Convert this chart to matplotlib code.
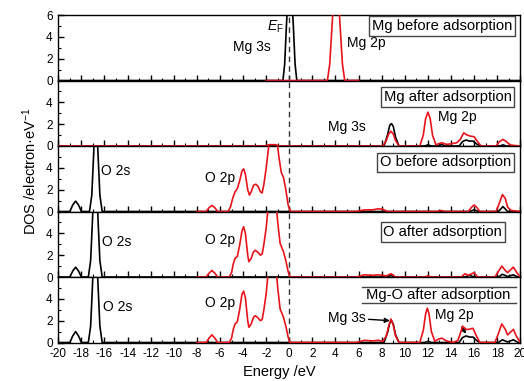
import matplotlib
matplotlib.use("Agg")
import matplotlib.pyplot as plt
from matplotlib.ticker import MultipleLocator

plt.rcParams['font.family'] = ['Liberation Sans', 'DejaVu Sans']
plt.rcParams['mathtext.fontset'] = 'custom'
plt.rcParams['mathtext.it'] = 'Liberation Sans:italic'
plt.rcParams['mathtext.rm'] = 'Liberation Sans'

# ---------------- data ----------------
titles = ["Mg before adsorption", "Mg after adsorption", "O before adsorption",
          "O after adsorption", "Mg-O after adsorption"]

# Panel 1: Mg before adsorption
p1_black_x = [-20, -0.55, -0.4, -0.25, -0.1, 0.05, 0.2, 0.35, 0.5, 0.65, 20]
p1_black_y = [0, 0, 1.5, 5.0, 8.0, 8.8, 8.0, 5.0, 1.5, 0, 0]
p1_red_x = [-2, 3.3, 3.5, 3.7, 3.9, 4.05, 4.2, 4.4, 4.6, 4.8, 6]
p1_red_y = [0, 0, 1.5, 5.0, 8.5, 9.5, 8.5, 5.0, 1.5, 0, 0]

# Panel 2: Mg after adsorption
p2_black_x = [-20, 8.2, 8.5, 8.7, 8.85, 9.0, 9.2, 9.5, 11.7, 12.0, 12.3, 12.9, 13.2, 13.5,
              14.7, 15.0, 15.3, 15.6, 15.9, 16.2, 16.5, 18.2, 18.5, 18.8, 20]
p2_black_y = [0, 0, 1.0, 1.9, 2.05, 1.8, 0.8, 0, 0, 0.1, 0, 0, 0.15, 0,
              0, 0.4, 0.55, 0.45, 0.45, 0.2, 0, 0, 0.1, 0, 0]
p2_red_x = [-20, -2.2, -1.7, -1.2, -0.8, 8.1, 8.4, 8.6, 8.8, 9.0, 9.2, 9.5,
            11.3, 11.6, 11.8, 12.0, 12.2, 12.4, 12.7, 12.9, 13.2, 13.6, 14.0, 14.5,
            14.8, 15.1, 15.4, 15.7, 16.0, 16.3, 16.6, 17.9, 18.2, 18.5, 18.8, 19.1, 19.5, 20]
p2_red_y = [0, 0, 0.12, 0.12, 0, 0, 0.5, 1.1, 1.35, 1.1, 0.5, 0,
            0, 1.0, 2.5, 3.1, 2.5, 1.0, 0.1, 0.2, 0.3, 0.15, 0.2, 0.3,
            0.6, 1.2, 1.0, 0.9, 0.85, 0.4, 0, 0, 0.4, 0.6, 0.4, 0.1, 0.05, 0]

# Panel 3: O before adsorption
p3_black_x = [-20, -19.0, -18.75, -18.5, -18.25, -18.0, -17.3, -17.1, -16.95, -16.85, -16.75,
              -16.65, -16.55, -16.4, -16.2, 15.6, 16.0, 16.4, 18.1, 18.5, 18.9, 20]
p3_black_y = [0, 0, 0.6, 0.95, 0.6, 0, 0, 1.5, 5.0, 7.5, 8.5,
              7.5, 5.0, 1.5, 0, 0, 0.15, 0, 0, 0.45, 0, 0]
p3_red_x = [-8, -7.2, -6.95, -6.7, -6.45, -6.2,
            -5.3, -5.1, -4.9, -4.7, -4.5, -4.3, -4.1, -3.95, -3.8, -3.6, -3.45, -3.3, -3.1,
            -2.9, -2.7, -2.5, -2.35, -2.2, -2.0, -1.8, -1.6, -1.35, -1.1, -0.9, -0.7, -0.5,
            -0.3, -0.1, 0.1,
            5.8, 6.5, 7.2, 7.7, 8.1, 8.5, 12.8, 13.1, 13.5, 15.5, 15.75, 16.0, 16.25, 16.5,
            17.9, 18.2, 18.45, 18.7, 18.9, 19.2, 20]
p3_red_y = [0, 0, 0.35, 0.55, 0.35, 0,
            0, 0.4, 1.2, 1.8, 2.1, 2.8, 3.7, 3.9, 3.4, 2.0, 1.5, 1.8, 2.4,
            2.5, 2.3, 1.8, 1.7, 2.5, 4.0, 5.8, 7.0, 7.5, 6.8, 5.0, 3.6, 3.1,
            2.0, 0.6, 0,
            0, 0.15, 0.15, 0.25, 0.2, 0, 0, 0.1, 0, 0, 0.35, 0.6, 0.35, 0,
            0, 0.8, 1.55, 1.2, 0.4, 0.1, 0]

# Panel 4: O after adsorption
p4_black_x = [-20, -19.0, -18.75, -18.5, -18.25, -18.0, -17.4, -17.2, -17.05, -16.95, -16.8,
              -16.65, -16.55, -16.4, -16.2, 8.5, 8.8, 9.1, 15.2, 15.6, 16.0, 18.1, 18.45, 18.9,
              19.4, 19.8, 20]
p4_black_y = [0, 0, 0.55, 0.9, 0.55, 0, 0, 1.5, 5.0, 7.5, 8.5,
              7.5, 5.0, 1.5, 0, 0, 0.15, 0, 0, 0.15, 0, 0, 0.25, 0.05,
              0.2, 0, 0]
p4_red_x = [-8, -7.2, -6.95, -6.7, -6.45, -6.2,
            -5.2, -5.0, -4.85, -4.7, -4.5, -4.3, -4.1, -3.95, -3.8, -3.6, -3.5, -3.3, -3.1,
            -2.95, -2.75, -2.5, -2.35, -2.2, -2.0, -1.85, -1.6, -1.4, -1.15, -1.0, -0.8, -0.5,
            -0.3, -0.1, 0.05,
            5.8, 6.5, 7.2, 7.7, 8.1, 8.4, 8.8, 9.2, 11.7, 12.0, 12.3, 14.9, 15.2, 15.5, 15.8,
            16.0, 16.3, 17.8, 18.1, 18.4, 18.7, 18.9, 19.1, 19.4, 19.7, 20]
p4_red_y = [0, 0, 0.35, 0.6, 0.35, 0,
            0, 0.4, 1.2, 1.7, 1.9, 2.9, 4.2, 4.6, 4.0, 2.0, 1.4, 1.7, 2.3,
            2.45, 2.3, 2.0, 2.1, 3.0, 4.5, 6.2, 7.5, 7.8, 6.8, 5.0, 3.1, 2.3,
            1.5, 0.5, 0,
            0, 0.2, 0.15, 0.2, 0.15, 0.1, 0.3, 0, 0, 0.1, 0, 0, 0.3, 0.15, 0.3,
            0.4, 0, 0, 0.5, 1.0, 0.6, 0.4, 0.6, 0.9, 0.4, 0]

# Panel 5: Mg-O after adsorption
p5_black_x = [-20, -19.0, -18.75, -18.5, -18.25, -18.0, -17.4, -17.2, -17.05, -16.95, -16.8,
              -16.65, -16.55, -16.4, -16.2, 8.2, 8.5, 8.7, 8.85, 9.0, 9.2, 9.5, 11.7, 12.0, 12.3,
              14.7, 15.0, 15.3, 15.6, 15.9, 16.2, 16.5, 18.1, 18.45, 18.9, 19.4, 19.8, 20]
p5_black_y = [0, 0, 0.6, 1.0, 0.6, 0, 0, 1.5, 5.0, 7.5, 8.5,
              7.5, 5.0, 1.5, 0, 0, 0.9, 1.8, 2.0, 1.7, 0.7, 0, 0, 0.1, 0,
              0, 0.45, 0.6, 0.5, 0.5, 0.2, 0, 0, 0.25, 0.05, 0.25, 0, 0]
p5_red_x = [-8, -7.2, -6.95, -6.7, -6.45, -6.2,
            -5.2, -5.0, -4.85, -4.7, -4.5, -4.3, -4.1, -3.95, -3.8, -3.6, -3.5, -3.3, -3.1,
            -2.95, -2.75, -2.5, -2.35, -2.2, -2.0, -1.85, -1.6, -1.4, -1.15, -1.0, -0.8, -0.5,
            -0.3, -0.1, 0.05,
            5.8, 6.5, 7.2, 7.7, 8.1, 8.4, 8.6, 8.8, 9.0, 9.2, 9.5,
            11.3, 11.6, 11.8, 11.95, 12.1, 12.3, 12.6, 12.9, 13.2, 13.6, 14.2,
            14.6, 14.8, 15.0, 15.3, 15.5, 15.9, 16.2, 16.5, 17.8, 18.1, 18.4, 18.7, 18.9, 19.1,
            19.4, 19.7, 20]
p5_red_y = [0, 0, 0.4, 0.7, 0.4, 0,
            0, 0.4, 1.2, 1.7, 1.9, 3.0, 4.4, 4.7, 4.1, 2.0, 1.4, 1.7, 2.3,
            2.45, 2.3, 2.0, 2.1, 3.0, 4.5, 6.2, 7.5, 7.8, 6.8, 5.0, 3.1, 2.3,
            1.5, 0.5, 0,
            0, 0.2, 0.15, 0.2, 0.1, 0.6, 1.5, 2.15, 1.6, 0.6, 0,
            0, 1.1, 2.6, 3.15, 2.6, 1.0, 0.1, 0.3, 0.4, 0.15, 0,
            0.2, 0.8, 1.5, 1.2, 1.2, 1.3, 0.6, 0, 0, 0.8, 1.7, 1.2, 0.7, 0.9,
            1.2, 0.5, 0]

xticks = list(range(-20, 21, 2))

panels = [
    (p1_black_x, p1_black_y, p1_red_x, p1_red_y),
    (p2_black_x, p2_black_y, p2_red_x, p2_red_y),
    (p3_black_x, p3_black_y, p3_red_x, p3_red_y),
    (p4_black_x, p4_black_y, p4_red_x, p4_red_y),
    (p5_black_x, p5_black_y, p5_red_x, p5_red_y),
]

# ---------------- figure ----------------
W, H = 524, 381
fig = plt.figure(figsize=(W / 100, H / 100), dpi=100)
left_px, right_px, top_px, bot_px = 58.3, 520.3, 15.0, 342.5
ph = (bot_px - top_px) / 5
axes = []
for i in range(5):
    yb = top_px + (i + 1) * ph
    ax = fig.add_axes([left_px / W, 1 - yb / H, (right_px - left_px) / W, ph / H])
    axes.append(ax)

for i, ax in enumerate(axes):
    bx, by, rx, ry = panels[i]
    ax.plot(bx, by, color='black', lw=1.2, zorder=3)
    ax.plot(rx, ry, color='#e8141c', lw=1.2, zorder=4)
    ax.axvline(0, color='#333333', lw=1.0, ls=(0, (4, 3)), zorder=2)
    ax.set_xlim(-20, 20)
    ax.set_ylim(0, 6)
    ax.xaxis.set_major_locator(MultipleLocator(2))
    ax.xaxis.set_minor_locator(MultipleLocator(1))
    ax.yaxis.set_minor_locator(MultipleLocator(1))
    ax.set_yticks([0, 2, 4, 6] if i == 0 else [0, 2, 4])
    ax.tick_params(which='major', direction='in', length=4, width=1, labelsize=8.5)
    ax.tick_params(which='minor', direction='in', length=2, width=0.8)
    ax.tick_params(axis='x', which='both', top=False)
    ax.tick_params(axis='x', which='major', pad=4)
    ax.tick_params(axis='y', which='major', pad=4)
    ax.tick_params(axis='y', which='both', right=False)
    if i < 4:
        ax.tick_params(axis='x', labelbottom=False)
    else:
        ax.set_xticks(xticks)
        ax.set_xticklabels([str(t) for t in xticks])
    for s in ax.spines.values():
        s.set_linewidth(1.0)

bbox = dict(boxstyle='square,pad=0.2', fc='white', ec='#444444', lw=1.0)
fs = 10
fsb = 10.6
axes[0].text(13.2, 5.0, titles[0], ha='center', va='center', fontsize=fsb, bbox=bbox, zorder=6)
axes[1].text(13.7, 4.49, titles[1], ha='center', va='center', fontsize=fsb, bbox=bbox, zorder=6)
axes[2].text(13.5, 4.49, titles[2], ha='center', va='center', fontsize=fsb, bbox=bbox, zorder=6)
axes[3].text(13.3, 4.12, titles[3], ha='center', va='center', fontsize=fsb, bbox=bbox, zorder=6)
axes[4].text(12.9, 4.35, titles[4], ha='center', va='center', fontsize=fsb, zorder=6)
axes[4].axhline(5.08, xmin=0.657, xmax=0.99, color='#444444', lw=1.0)
axes[4].axhline(3.62, xmin=0.657, xmax=0.99, color='#444444', lw=1.0)

axes[0].text(-4.9, 3.07, 'Mg 3s', ha='left', va='center', fontsize=fs)
axes[0].text(-1.9, 4.9, r'$E_\mathrm{F}$', ha='left', va='center', fontsize=fs)
axes[0].text(5.0, 3.44, 'Mg 2p', ha='left', va='center', fontsize=fs)
axes[1].text(3.35, 1.74, 'Mg 3s', ha='left', va='center', fontsize=fs)
axes[1].text(12.87, 2.66, 'Mg 2p', ha='left', va='center', fontsize=fs)
axes[2].text(-16.3, 3.71, 'O 2s', ha='left', va='center', fontsize=fs)
axes[2].text(-7.3, 3.07, 'O 2p', ha='left', va='center', fontsize=fs)
axes[3].text(-16.2, 3.2, 'O 2s', ha='left', va='center', fontsize=fs)
axes[3].text(-7.3, 3.39, 'O 2p', ha='left', va='center', fontsize=fs)
axes[4].text(-16.1, 3.25, 'O 2s', ha='left', va='center', fontsize=fs)
axes[4].text(-7.3, 3.6, 'O 2p', ha='left', va='center', fontsize=fs)
axes[4].annotate('Mg 3s', xy=(8.7, 2.0), xytext=(3.35, 2.25), ha='left', va='center',
                 fontsize=fs, arrowprops=dict(arrowstyle='-|>', color='black', lw=1.0,
                                              mutation_scale=7, shrinkA=0, shrinkB=0))
axes[4].annotate('Mg 2p', xy=(15.3, 0.8), xytext=(12.6, 2.52), ha='left', va='center',
                 fontsize=fs, arrowprops=dict(arrowstyle='-|>', color='black', lw=1.0,
                                              mutation_scale=7, shrinkA=2, shrinkB=0))

fig.text(30 / W, 1 - 171 / H, 'DOS /electron\u00b7eV$^{-1}$',
         rotation=90, ha='center', va='center', fontsize=10.5)
fig.text(279 / W, 1 - 372 / H, 'Energy /eV', ha='center', va='center', fontsize=10.5)

fig.savefig('out.png', dpi=100)
